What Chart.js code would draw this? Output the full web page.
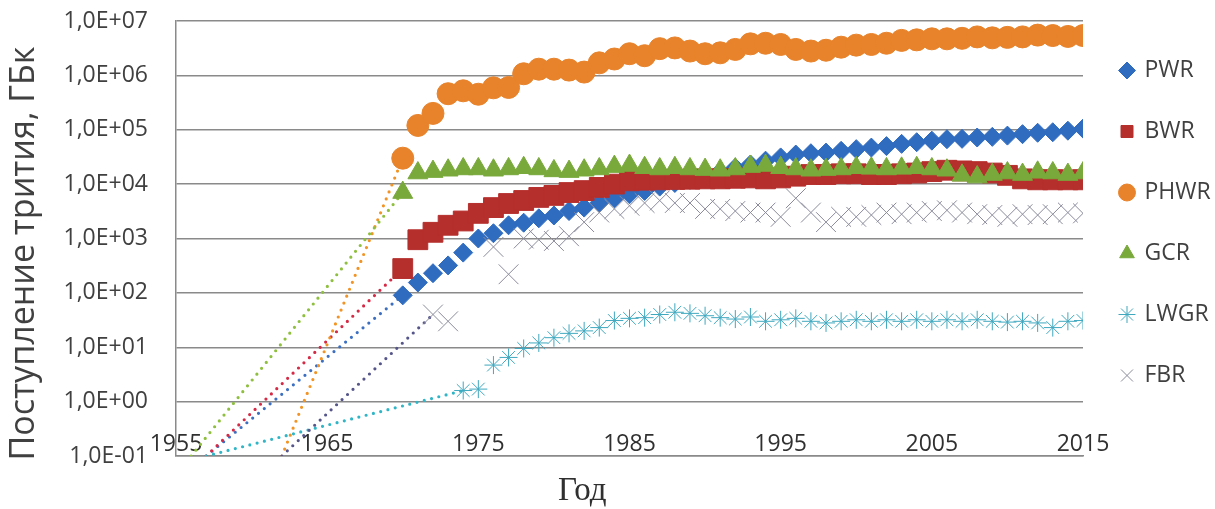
<!DOCTYPE html>
<html lang="ru">
<head>
<meta charset="utf-8">
<title>Поступление трития</title>
<script src="https://cdn.jsdelivr.net/npm/chart.js@4.4.1/dist/chart.umd.min.js"></script>
<style>
  html, body { margin: 0; padding: 0; background: #fff; }
  #wrap { position: relative; width: 1215px; height: 509px; }
</style>
</head>
<body>
<div id="wrap"><canvas id="tritium-chart"></canvas></div>
<script>
// years for the data points
const years = [1970, 1971, 1972, 1973, 1974, 1975, 1976, 1977, 1978, 1979,
               1980, 1981, 1982, 1983, 1984, 1985, 1986, 1987, 1988, 1989,
               1990, 1991, 1992, 1993, 1994, 1995, 1996, 1997, 1998, 1999,
               2000, 2001, 2002, 2003, 2004, 2005, 2006, 2007, 2008, 2009,
               2010, 2011, 2012, 2013, 2014, 2015];

const pwr = [90, 155, 230, 320, 550, 1000, 1250, 1750, 1950, 2350,
             2650, 3200, 3700, 4500, 5500, 6500, 7500, 9000, 10500, 12000,
             14000, 17000, 20000, 23000, 27000, 31000, 35000, 37000, 38000, 41000,
             44000, 47000, 50000, 55000, 59000, 63000, 67000, 68000, 72000, 74000,
             78000, 83000, 88000, 90000, 96000, 105000];

const bwr = [280, 950, 1300, 1750, 2100, 2900, 3700, 4400, 5000, 5700,
             6200, 7000, 7600, 8700, 10000, 11500, 11800, 12000, 12200, 12300,
             12500, 12500, 12800, 13000, 12500, 13000, 14000, 15000, 15000, 15500,
             15500, 15000, 15000, 15500, 16000, 17000, 18000, 17500, 17000, 16000,
             14500, 12500, 12000, 12000, 12000, 12000];

const phwr = [30000, 120000, 200000, 460000, 520000, 450000, 590000, 600000, 1070000, 1300000,
              1300000, 1250000, 1150000, 1700000, 2000000, 2500000, 2300000, 3100000, 3200000, 2800000,
              2500000, 2600000, 3000000, 3800000, 3900000, 3700000, 3000000, 2800000, 2900000, 3300000,
              3600000, 3700000, 3900000, 4400000, 4500000, 4700000, 4700000, 4800000, 5100000, 4900000,
              5000000, 5100000, 5500000, 5400000, 5200000, 5400000];

const gcr = [7000, 16000, 17000, 18000, 19000, 19000, 18000, 19000, 20000, 19000,
             17500, 17000, 18000, 19000, 21000, 22000, 20000, 19000, 20000, 19000,
             18500, 18000, 19000, 21000, 22000, 20000, 19000, 18000, 18500, 19000,
             20000, 19500, 19000, 19500, 20000, 19000, 18000, 14500, 13500, 15000,
             16000, 15000, 16500, 16000, 15000, 16000];

const lwgr = [null, null, null, null, 1.6, 1.7, 4.7, 6.5, 9.5, 12,
              15, 18, 20, 23, 31, 34, 35, 40, 44, 42,
              38, 35, 33, 36, 30, 32, 34, 30, 28, 30,
              32, 30, 32, 30, 32, 30, 32, 30, 32, 30,
              29, 30, 28, 23, 30, 31];

const fbr = [null, null, 40, 30, null, null, 700, 220, 1000, 950,
             900, 1100, 2000, 3000, 3500, 4000, 4500, 5000, 4500, 4500,
             3500, 3500, 3200, 3000, 3000, 2500, 5500, 3000, 2000, 2500,
             2500, 2700, 3000, 2800, 3000, 3200, 3300, 3000, 2800, 2700,
             2500, 2800, 2700, 2800, 3000, 2900];

// start of the dotted lead-in line of each series (year, value)
const leadYears = [1957, 1957, 1962, 1956, 1957, 1962];
const leadValues = [0.1, 0.1, 0.1, 0.1, 0.1, 0.1];

const seriesNames = ['PWR', 'BWR', 'PHWR', 'GCR', 'LWGR', 'FBR'];
const seriesValues = [pwr, bwr, phwr, gcr, lwgr, fbr];

const xTickValues = [1955, 1965, 1975, 1985, 1995, 2005, 2015];
const xTickLabels = ['1955', '1965', '1975', '1985', '1995', '2005', '2015'];
const yTickValues = [0.1, 1, 10, 100, 1000, 10000, 100000, 1000000, 10000000];
const yTickLabels = ['1,0E-01', '1,0E+00', '1,0E+01', '1,0E+02', '1,0E+03',
                     '1,0E+04', '1,0E+05', '1,0E+06', '1,0E+07'];

const yTitle = 'Поступление трития, ГБк';
const xTitle = 'Год';

// look of each series
const styles = [
    { marker: 'rectRot',  radius: 9.5, fill: '#2f6cc0', edge: '#2f6cc0', dots: '#3c6fc0' },
    { marker: 'rect',     radius: 14,  fill: '#b52f2d', edge: '#b52f2d', dots: '#d42a45' },
    { marker: 'circle',   radius: 11,  fill: '#e8832b', edge: '#e8832b', dots: '#f29425' },
    { marker: 'triangle', radius: 11.5, fill: '#79a93b', edge: '#79a93b', dots: '#8fbf3f' },
    { marker: 'star',     radius: 9,   fill: 'transparent', edge: '#3fa8bf', dots: '#2fb5c6' },
    { marker: 'crossRot', radius: 14,  fill: 'transparent', edge: '#8a8a9c', dots: '#55558a' }
];

function buildDatasets() {
    return seriesNames.map((name, i) => {
        const st = styles[i];
        const points = [{ x: leadYears[i], y: leadValues[i] }];
        years.forEach((yr, k) => {
            if (seriesValues[i][k] !== null) points.push({ x: yr, y: seriesValues[i][k] });
        });
        return {
            label: name,
            data: points,
            order: -i, // later series drawn on top, like the original
            showLine: true,
            borderColor: st.dots,
            borderWidth: 3.2,
            borderDash: [0, 7.5],
            borderCapStyle: 'round',
            // only the first segment (the lead-in) is visible
            segment: {
                borderColor: ctx => ctx.p0DataIndex === 0 ? undefined : 'transparent'
            },
            pointStyle: st.marker,
            pointRadius: ctx => ctx.dataIndex === 0 ? 0 : st.radius,
            pointBackgroundColor: st.fill,
            pointBorderColor: st.edge,
            pointBorderWidth: 1,
            pointHoverRadius: 0
        };
    });
}

const axisTitles = {
    id: 'axisTitles',
    afterDraw(chart) {
        const { ctx, chartArea } = chart;
        ctx.save();
        ctx.fillStyle = '#404040';
        ctx.textAlign = 'center';
        ctx.textBaseline = 'middle';
        ctx.font = "34px 'Open Sans'";
        ctx.translate(24, (chartArea.top + chartArea.bottom) / 2 + 15);
        ctx.rotate(-Math.PI / 2);
        ctx.fillText(yTitle, 0, 0);
        ctx.restore();

        ctx.save();
        ctx.fillStyle = '#303030';
        ctx.textAlign = 'center';
        ctx.textBaseline = 'middle';
        ctx.font = "33px 'Liberation Serif'";
        ctx.fillText(xTitle, chartArea.left + chartArea.width * 0.448, chartArea.bottom + 35);
        ctx.restore();
    }
};

function renderChart() {
    const canvas = document.getElementById('tritium-chart');
    Chart.defaults.font.family = "'Open Sans', sans-serif";
    Chart.defaults.color = '#404040';

    new Chart(canvas, {
        type: 'line',
        data: { datasets: buildDatasets() },
        options: {
            responsive: true,
            maintainAspectRatio: false,
            animation: false,
            events: [],
            layout: { padding: { top: 21, right: 0, bottom: 53, left: 0 } },
            plugins: {
                tooltip: { enabled: false },
                legend: {
                    position: 'right',
                    align: 'start',
                    maxWidth: 132,
                    labels: {
                        usePointStyle: true,
                        boxWidth: 12,
                        boxHeight: 12,
                        padding: 38,
                        color: '#404040',
                        font: { size: 23 },
                        sort: (a, b) => a.datasetIndex - b.datasetIndex
                    }
                }
            },
            scales: {
                x: {
                    type: 'linear',
                    min: 1955,
                    max: 2015,
                    afterBuildTicks: scale => {
                        scale.ticks = xTickValues.map(v => ({ value: v }));
                    },
                    ticks: {
                        mirror: true,
                        padding: 0,
                        maxRotation: 0,
                        autoSkip: false,
                        color: '#303030',
                        font: { size: 23, lineHeight: 1 },
                        callback: (value) => xTickLabels[xTickValues.indexOf(value)]
                    },
                    grid: { display: false, drawTicks: false },
                    border: { display: true, color: '#8a8a8a', width: 1.5 }
                },
                y: {
                    type: 'logarithmic',
                    min: 0.1,
                    max: 10000000,
                    afterBuildTicks: scale => {
                        scale.ticks = yTickValues.map(v => ({ value: v }));
                    },
                    afterFit: scale => { scale.width = 176; },
                    ticks: {
                        padding: 0,
                        autoSkip: false,
                        color: '#404040',
                        font: { size: 23 },
                        callback: (value) => yTickLabels[yTickValues.indexOf(value)]
                    },
                    grid: {
                        color: '#8a8a8a',
                        lineWidth: 1.5,
                        drawTicks: true,
                        tickLength: 28,
                        tickColor: 'transparent'
                    },
                    border: { display: true, color: '#8a8a8a', width: 1.5 }
                }
            }
        },
        plugins: [axisTitles]
    });
}

try {
    renderChart();
} catch (error) {
    console.error('Error rendering chart:', error);
}
</script>
</body>
</html>
